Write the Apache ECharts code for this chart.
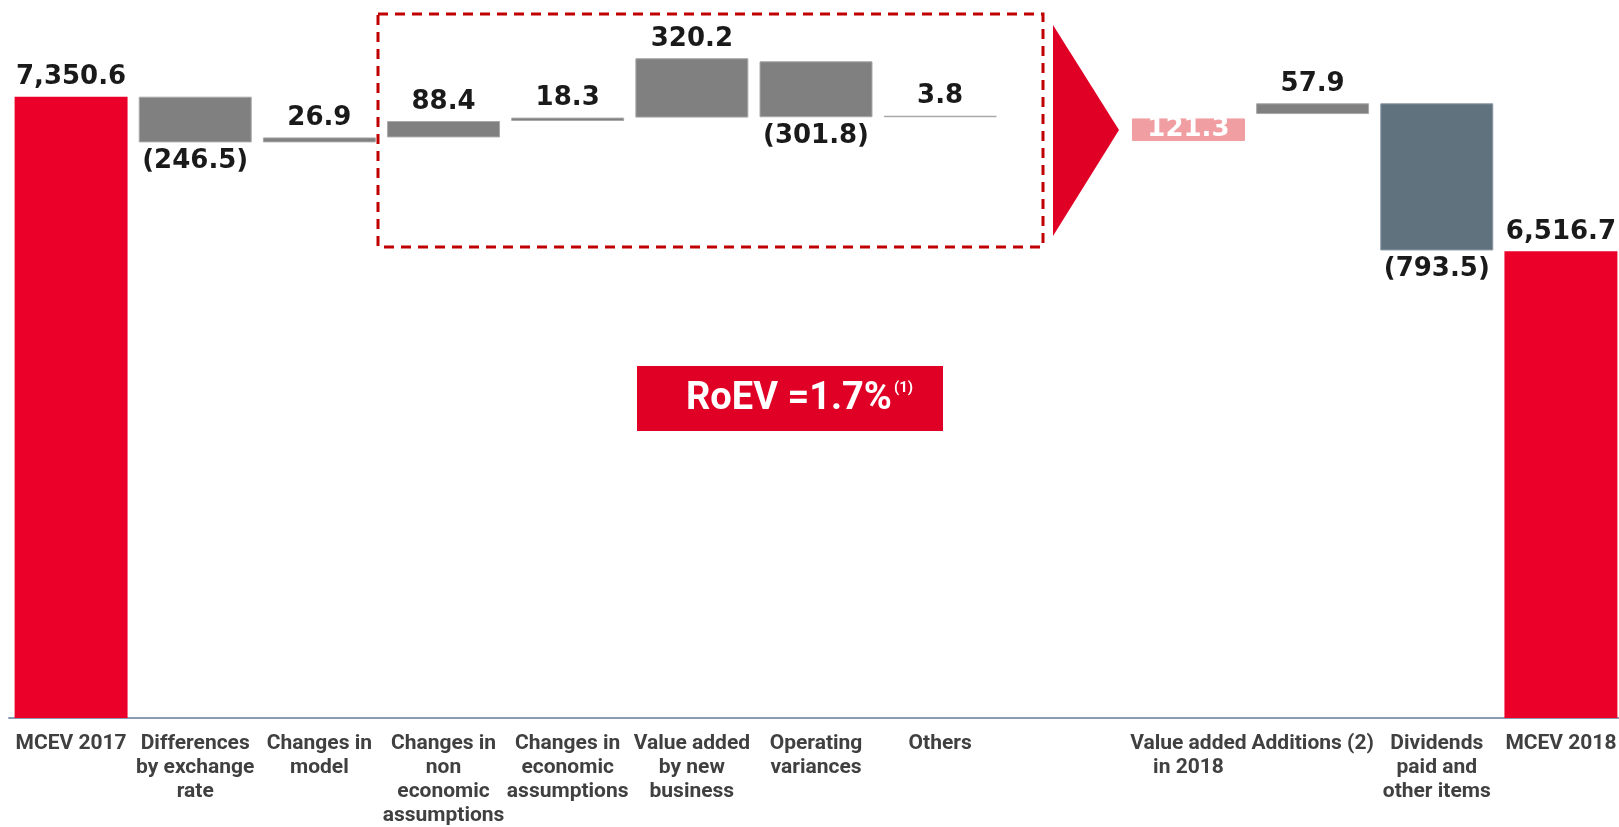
<!DOCTYPE html>
<html>
<head>
<meta charset="utf-8">
<script src="https://cdn.jsdelivr.net/npm/echarts@6/dist/echarts.min.js"></script>
<style>
  html, body { margin: 0; padding: 0; background: #fff; }
  #waterfall { width: 1619px; height: 827px; }
</style>
</head>
<body>
<div id="waterfall"></div>
<script>
// categories along the x axis (empty slot holds the arrow)
const categories = [
  'MCEV 2017',
  'Differences\nby exchange\nrate',
  'Changes in\nmodel',
  'Changes in\nnon\neconomic\nassumptions',
  'Changes in\neconomic\nassumptions',
  'Value added\nby new\nbusiness',
  'Operating\nvariances',
  'Others',
  '',
  'Value added\nin 2018',
  'Additions (2)',
  'Dividends\npaid and\nother items',
  'MCEV 2018'
];
// movement of each bar (totals are full values)
const changes = [7350.6, -246.5, 26.9, 88.4, 18.3, 320.2, -301.8, 3.8, null, 121.3, 57.9, -793.5, 6516.7];
// level where each movement starts
const startLevels = [0, 7350.6, 7104.1, 7131.0, 7219.4, 7237.7, 7541.5, 7239.7, null, 7112.0, 7257.0, 7314.9, 0];
// kind of bar: total, move, subtotal, dividend
const barKinds = ['total', 'move', 'move', 'move', 'move', 'move', 'move', 'move', null, 'subtotal', 'move', 'dividend', 'total'];

const colors = {
  total: '#EB0029',
  move: '#808080',
  subtotal: '#F09EA2',
  dividend: '#61727F'
};

function fmt(i) {
  const v = changes[i];
  if (barKinds[i] === 'total') {
    return v.toLocaleString('en-US', { minimumFractionDigits: 1, maximumFractionDigits: 1 });
  }
  return v < 0 ? '(' + Math.abs(v).toFixed(1) + ')' : v.toFixed(1);
}

const baseData = changes.map((v, i) => {
  if (v == null) return '-';
  return v < 0 ? startLevels[i] + v : startLevels[i];
});

const moveData = changes.map((v, i) => {
  if (v == null) return '-';
  const kind = barKinds[i];
  const label = { position: v < 0 ? 'bottom' : 'top' };
  if (kind === 'subtotal') {
    label.position = 'inside';
    label.color = '#fff';
  }
  return {
    value: Math.abs(v),
    itemStyle: {
      color: colors[kind],
      borderColor: kind === 'move' ? '#a8a8a8' : (kind === 'dividend' ? '#8a99a5' : colors[kind]),
      borderWidth: kind === 'total' ? 0 : 1
    },
    label
  };
});

const chart = echarts.init(document.getElementById('waterfall'));

const option = {
  animation: false,
  grid: { left: 9, width: 1614, top: 0, bottom: 109, outerBoundsMode: 'none' },
  xAxis: {
    type: 'category',
    data: categories,
    axisLine: { lineStyle: { color: '#8a9ab0', width: 2 } },
    axisTick: { show: false },
    axisLabel: {
      interval: 0,
      margin: 14,
      fontFamily: 'Roboto',
      fontSize: 21,
      lineHeight: 24,
      fontWeight: 'bold',
      color: '#404040'
    }
  },
  yAxis: { type: 'value', min: 4000, max: 7872, show: false },
  series: [
    {
      name: 'base',
      type: 'bar',
      stack: 'wf',
      silent: true,
      barCategoryGap: '9%',
      itemStyle: { color: 'transparent' },
      data: baseData
    },
    {
      name: 'move',
      type: 'bar',
      stack: 'wf',
      barCategoryGap: '9%',
      barMinHeight: 1.5,
      label: {
        show: true,
        distance: 6,
        fontFamily: 'DejaVu Sans',
        fontWeight: 'bold',
        fontSize: 26,
        color: '#1a1a1a',
        formatter: p => fmt(p.dataIndex)
      },
      data: moveData
    }
  ],
  graphic: [
    {
      type: 'rect',
      shape: { x: 378, y: 14, width: 665, height: 233 },
      style: { fill: 'none', stroke: '#C00000', lineWidth: 3, lineDash: [10, 7] },
      z: 10
    },
    {
      type: 'polygon',
      shape: { points: [[1053, 25], [1119, 130], [1053, 236]] },
      style: { fill: '#E00026' },
      z: 10
    },
    {
      type: 'rect',
      shape: { x: 637, y: 366, width: 306, height: 65 },
      style: { fill: '#E00026' },
      z: 10
    },
    {
      type: 'text',
      x: 686, y: 399,
      style: {
        text: 'RoEV =1.7%',
        fill: '#fff',
        fontFamily: 'Roboto',
        fontWeight: 'bold',
        fontSize: 38,
        verticalAlign: 'middle'
      },
      z: 11
    },
    {
      type: 'text',
      x: 894, y: 388,
      style: {
        text: '(1)',
        fill: '#fff',
        fontFamily: 'Roboto',
        fontWeight: 'bold',
        fontSize: 15,
        verticalAlign: 'middle'
      },
      z: 11
    }
  ]
};

chart.setOption(option);
</script>
</body>
</html>
